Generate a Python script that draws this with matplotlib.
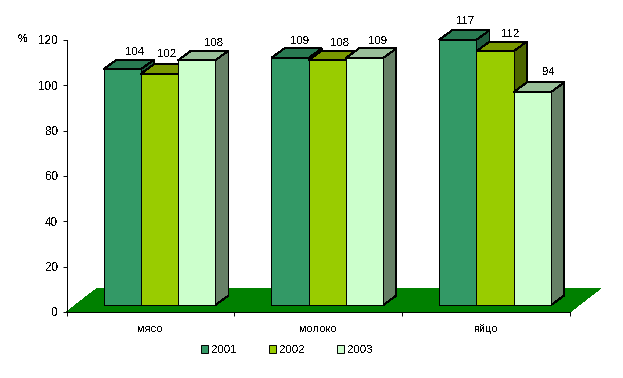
import matplotlib
matplotlib.use("Agg")
import matplotlib.pyplot as plt
from matplotlib.patches import Polygon, Patch

categories = ["мясо", "молоко", "яйцо"]
years = ["2001", "2002", "2003"]
v2001 = [104, 109, 117]
v2002 = [102, 108, 112]
v2003 = [108, 109, 94]
series = [v2001, v2002, v2003]
front_colors = ["#339966", "#99CC00", "#CCFFCC"]
top_colors = ["#297A52", "#7A9900", "#99BF99"]
side_colors = ["#1F5C3D", "#4D6600", "#668066"]
floor_color = "#008000"

W, H = 623, 378
L, R, T, B = 66.5, 570.0, 40.0, 312.0
plt.rcParams["font.family"] = ["Liberation Sans", "DejaVu Sans"]
plt.rcParams["font.size"] = 8.2
plt.rcParams["text.antialiased"] = False

fig = plt.figure(figsize=(W / 100, H / 100), dpi=100, facecolor="white")
ax = fig.add_axes([L / W, 1 - B / H, (R - L) / W, (B - T) / H])
ax.set_xlim(0, 3)
ax.set_ylim(0, 120)

px = 3 / (R - L)          # data units per pixel, x
py = 120 / (B - T)        # data units per pixel, y
bar_w = 37.33 * px
first = 37 * px
base = 7 * py
dx, dy = 13 * px, 9.5 * py
fdx, fdy = 31 * px, 24 * py

ax.add_patch(Polygon([(0, 0), (3, 0), (3 + fdx, fdy), (fdx, fdy)], closed=True,
                     facecolor=floor_color, edgecolor="none", clip_on=False,
                     antialiased=False, zorder=1))

# label nudges in pixels (dx, dy above the front top edge)
label_dx = [[12, 7, 17], [10, 12, 13], [7, 15.5, 16]]
label_dy = [18, 20, 18, 17, 18, 17, 19, 18, 20]

z = 2
for g in range(len(categories)):
    for s in range(3):
        x0 = g + first + s * bar_w
        x1 = x0 + bar_w
        top = base + series[s][g]
        kw = dict(closed=True, edgecolor="black", linewidth=0.65, clip_on=False,
                  antialiased=False, joinstyle="miter", zorder=z)
        ax.add_patch(Polygon([(x1, base), (x1 + dx, base + dy), (x1 + dx, top + dy), (x1, top)],
                             facecolor=side_colors[s], **kw))
        ax.add_patch(Polygon([(x0, top), (x1, top), (x1 + dx, top + dy), (x0 + dx, top + dy)],
                             facecolor=top_colors[s], **kw))
        ax.add_patch(Polygon([(x0, base), (x1, base), (x1, top), (x0, top)],
                             facecolor=front_colors[s], **kw))
        z += 1
        ax.text((x0 + x1) / 2 + label_dx[g][s] * px,
                top + (label_dy[g * 3 + s] - 0.5) * py, str(series[s][g]),
                ha="center", va="center", color="black", zorder=50, clip_on=False)

for sp in ("top", "right"):
    ax.spines[sp].set_visible(False)
for sp in ("left", "bottom"):
    ax.spines[sp].set_linewidth(0.7)
    ax.spines[sp].set_antialiased(False)
    ax.spines[sp].set_zorder(40)

ax.set_yticks(range(0, 121, 20))
ax.set_xticks([0, 1, 2, 3])
ax.set_xticklabels([])
ax.set_xticks([0.5, 1.5, 2.5], minor=True)
ax.set_xticklabels(categories, minor=True)
ax.tick_params(axis="both", which="major", direction="out", length=3, width=0.7)
ax.tick_params(axis="y", labelsize=8.4, pad=3)
ax.tick_params(axis="x", which="minor", length=0, pad=8.5, labelsize=8.0)

fig.text(23 / W, 1 - 38.5 / H, "%", ha="center", va="center", fontweight="bold", fontsize=7.8)

handles = [Patch(facecolor=c, edgecolor="black", linewidth=0.7, label=y)
           for c, y in zip(front_colors, years)]
fig.legend(handles=handles, ncol=3, loc="center", bbox_to_anchor=(287 / W, 1 - 350 / H),
           frameon=False, borderpad=0, handlelength=0.62, handleheight=0.62,
           handletextpad=0.36, columnspacing=2.75, fontsize=8.2)

fig.savefig("out.png", dpi=100, facecolor="white")
